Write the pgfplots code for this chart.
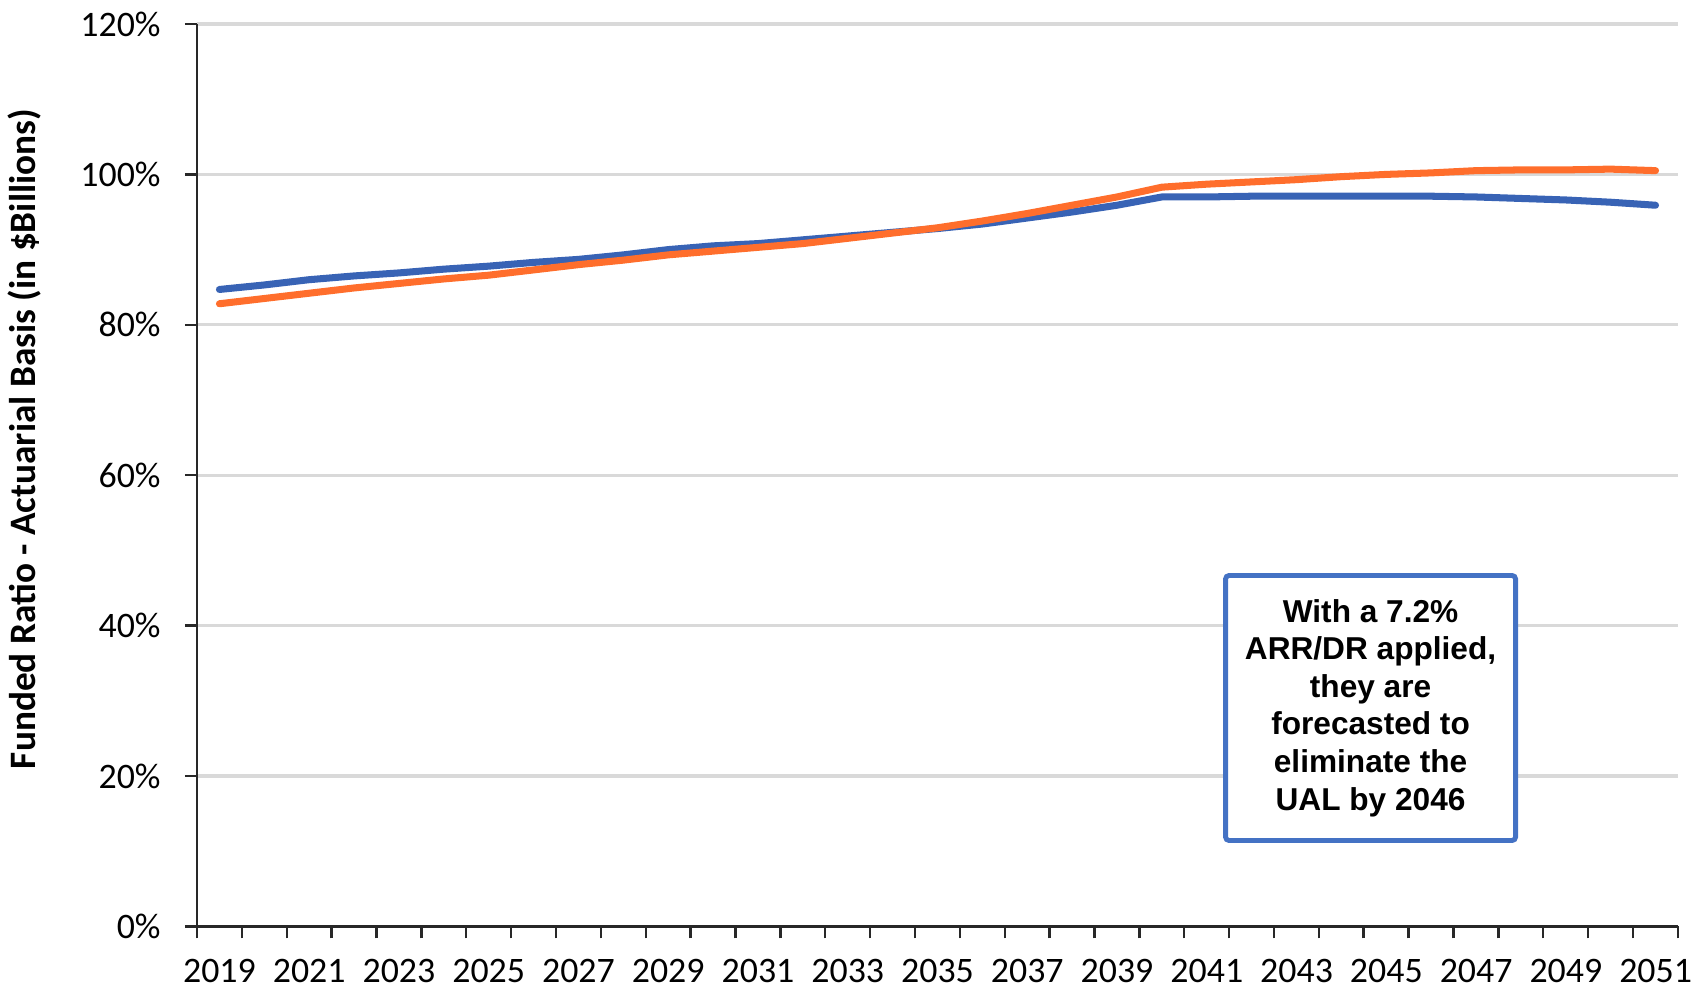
\documentclass[border=0pt]{standalone}
\usepackage{pgfplots}
\usepackage{pgfplotstable}
\pgfplotsset{compat=1.18}
\usepackage{fontspec}
\setmainfont{Carlito}
\newfontfamily\boxfont{Liberation Sans}

\definecolor{seriesblue}{RGB}{56,99,181}
\definecolor{seriesorange}{RGB}{255,110,44}
\definecolor{boxblue}{RGB}{68,114,196}
\definecolor{gridgray}{RGB}{217,217,217}
\definecolor{axisgray}{RGB}{40,40,40}

% Funded ratio (%), actuarial basis
\pgfplotstableread{
year  blue   orange
2019  84.7   82.8
2020  85.3   83.5
2021  86.0   84.2
2022  86.5   84.9
2023  86.9   85.5
2024  87.4   86.1
2025  87.8   86.6
2026  88.3   87.3
2027  88.7   88.0
2028  89.3   88.6
2029  90.0   89.3
2030  90.5   89.8
2031  90.8   90.3
2032  91.3   90.8
2033  91.8   91.5
2034  92.3   92.2
2035  92.8   92.9
2036  93.4   93.8
2037  94.2   94.8
2038  95.0   95.9
2039  95.9   97.0
2040  97.0   98.3
2041  97.0   98.7
2042  97.1   99.0
2043  97.1   99.3
2044  97.1   99.7
2045  97.1  100.0
2046  97.1  100.2
2047  97.0  100.5
2048  96.8  100.6
2049  96.6  100.6
2050  96.3  100.7
2051  95.9  100.5
}\funded

\begin{document}
\begin{tikzpicture}
\begin{axis}[
  scale only axis,
  width=148.1mm, height=90.25mm,
  xmin=2018.5, xmax=2051.5,
  ymin=0, ymax=120,
  axis x line*=bottom, axis y line*=left,
  axis line style={axisgray, line width=0.7pt},
  xtick={2018.5,2019.5,...,2051.5},
  xticklabels={},
  extra x ticks={2019,2021,...,2051},
  extra x tick labels={2019,2021,2023,2025,2027,2029,2031,2033,2035,2037,2039,2041,2043,2045,2047,2049,2051},
  extra x tick style={major tick length=0pt, grid=none},
  ytick={0,20,...,120},
  yticklabel={\pgfmathprintnumber{\tick}\%},
  /pgf/number format/assume math mode=true,
  tick align=outside,
  major tick length=1.2mm,
  tick style={axisgray, line width=0.7pt},
  ymajorgrids,
  grid style={gridgray, line width=0.9pt},
  ticklabel style={font=\fontsize{10.2}{12}\selectfont},
  xticklabel style={yshift=-2.0mm},
  yticklabel style={xshift=-1.2mm},
  ylabel={Funded Ratio - Actuarial Basis (in \$Billions)},
  ylabel style={font=\bfseries\fontsize{10.6}{12}\selectfont,
    at={(axis description cs:-0.1168,0.54)}, anchor=center},
  clip=false,
]
\coordinate (sw) at (rel axis cs:0,0);
\coordinate (ne) at (rel axis cs:1,1);

\addplot[seriesblue, line width=2pt, line cap=round, line join=round]
  table[x=year, y=blue] {\funded};
\addplot[seriesorange, line width=2pt, line cap=round, line join=round]
  table[x=year, y=orange] {\funded};

\node[draw=boxblue, line width=1.4pt, rounded corners=1pt, fill=white,
      minimum width=29.0mm, minimum height=26.5mm, inner sep=0pt,
      align=center, font=\boxfont\bfseries\fontsize{9}{10.7}\selectfont]
  at (axis cs:2044.65,29.05)
  {With a 7.2\%\\ARR/DR applied,\\they are\\forecasted to\\eliminate the\\UAL by 2046};
\end{axis}
\pgfresetboundingbox
\path[use as bounding box] ([shift={(-19.7mm,-6.45mm)}]sw) rectangle ([shift={(2.7mm,2.4mm)}]ne);
\end{tikzpicture}
\end{document}
